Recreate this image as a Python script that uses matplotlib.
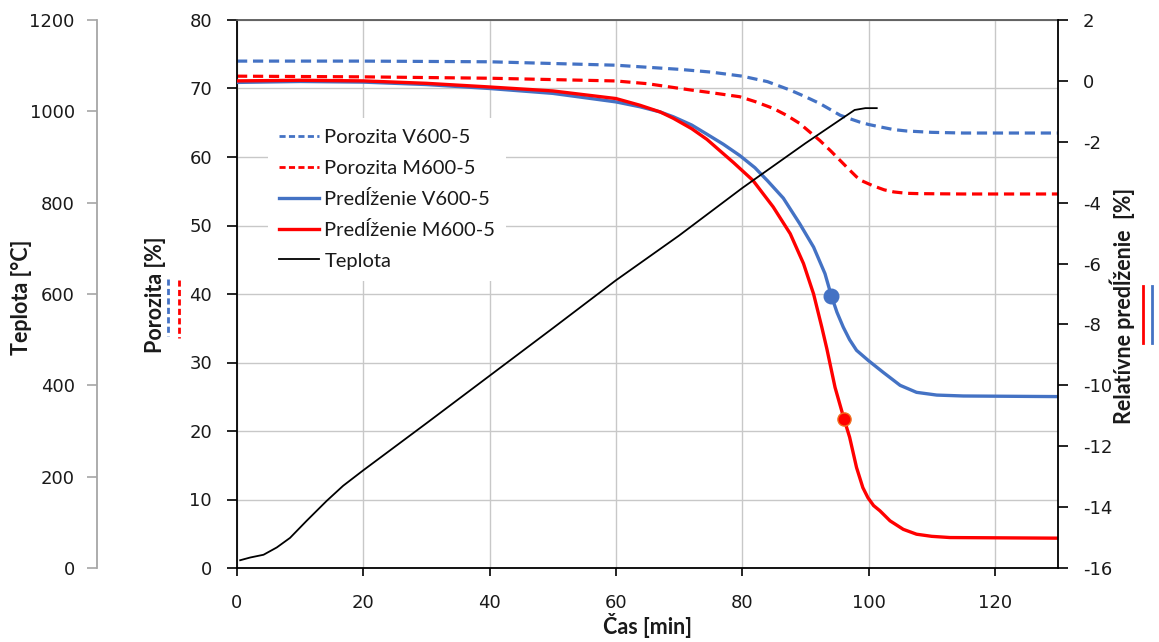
import matplotlib
matplotlib.use("Agg")
import matplotlib.pyplot as plt
from matplotlib.lines import Line2D

plt.rcParams['axes.unicode_minus'] = False
plt.rcParams['font.family'] = ['DejaVu Sans']

# ---------------- data ----------------
# Porosity (left axis, %)
por_v_t = [0, 20, 40, 60, 65, 70, 75, 80, 84, 87.5, 90, 92.3, 94, 95.5, 97, 98.6, 100, 101.8,
           104, 106, 110, 115, 130]
por_v = [74.0, 74.0, 73.9, 73.4, 73.1, 72.8, 72.4, 71.8, 71.0, 69.8, 68.8, 67.8, 66.9, 66.1,
         65.6, 65.1, 64.75, 64.4, 64.0, 63.8, 63.6, 63.5, 63.5]

por_m_t = [0, 20, 40, 60, 65, 71.7, 75, 79.6, 82, 84.9, 87, 89.1, 90.5, 92.3, 94, 95.5, 97, 98.1,
           99, 100.7, 102.5, 104, 106, 108, 115, 130]
por_m = [71.8, 71.7, 71.5, 71.1, 70.7, 69.8, 69.4, 68.8, 68.1, 67.1, 66.1, 64.9, 63.8, 62.4,
         60.9, 59.5, 58.1, 57.1, 56.5, 55.8, 55.2, 54.9, 54.7, 54.65, 54.6, 54.6]

# Relative elongation (right axis, %)
pre_v_t = [0, 10, 20, 30, 40, 50, 60, 63.8, 67, 69.1, 72, 74.4, 77, 79.6, 82, 84, 86.5, 89.1, 91.3,
           93.1, 94.1, 95, 96, 97, 98.1, 100, 102.3, 105, 107.6, 110.8, 115, 130]
pre_v = [-0.05, -0.02, -0.04, -0.12, -0.25, -0.41, -0.69, -0.85, -1.02, -1.18, -1.45, -1.75,
         -2.08, -2.45, -2.85, -3.28, -3.85, -4.69, -5.46, -6.33, -7.05, -7.6, -8.09, -8.5, -8.85,
         -9.19, -9.57, -10.0, -10.23, -10.32, -10.35, -10.37]

pre_m_t = [0, 10, 20, 30, 40, 50, 60, 63.8, 67, 69.1, 72, 74.4, 78.6, 81.7, 84.9, 87.6, 89.7, 91.3,
           92.6, 93.4, 94.7, 96.1, 97, 98.1, 99.1, 99.9, 100.8, 101.8, 103.4, 105.5, 107.6, 110,
           112.9, 130]
pre_m = [0.0, 0.02, 0.0, -0.08, -0.2, -0.33, -0.58, -0.8, -1.02, -1.23, -1.57, -1.92, -2.68,
         -3.27, -4.14, -5.02, -6.0, -7.0, -8.09, -8.8, -10.07, -11.09, -11.7, -12.7, -13.36, -13.69,
         -13.95, -14.12, -14.45, -14.73, -14.89, -14.96, -15.0, -15.02]

# Temperature (far-left axis, °C)
temp_t = [0.5, 2.1, 4.2, 6.3, 8.4, 11, 14.2, 16.8, 20, 30, 40, 50, 60, 70, 80, 90, 97.8, 99.5, 101.3]
temp = [17, 23, 29, 45, 66, 103, 147, 180, 214, 317, 421, 525, 630, 728, 832, 930, 1003, 1007, 1007]

# highlighted points (right axis)
mark_v_t, mark_v = [94.1], [-7.05]
mark_m_t, mark_m = [96.1], [-11.09]

labels = ["Porozita V600-5", "Porozita M600-5", "Predĺženie V600-5", "Predĺženie M600-5", "Teplota"]
x_ticks = [0, 20, 40, 60, 80, 100, 120]
por_ticks = [0, 10, 20, 30, 40, 50, 60, 70, 80]
pre_ticks = [-16, -14, -12, -10, -8, -6, -4, -2, 0, 2]
temp_ticks = [0, 200, 400, 600, 800, 1000, 1200]

BLUE = '#4472C4'
RED = '#FF0000'
TXT = '#1a1a1a'

W, H = 1159, 642
fig = plt.figure(figsize=(W / 100, H / 100), dpi=100)
L, R, T, B = 237, 1058, 20, 568
ax = fig.add_axes([L / W, 1 - B / H, (R - L) / W, (B - T) / H])
ax.set_xlim(0, 130)
ax.set_ylim(0, 80)
ax.set_xticks(x_ticks)
ax.set_yticks(por_ticks)
ax.grid(True, color='#C8C8C8', lw=1.0)
ax.set_axisbelow(True)
for s in ['left', 'bottom']:
    ax.spines[s].set_color('black')
    ax.spines[s].set_linewidth(1.3)
ax.spines['top'].set_color('#595959')
ax.spines['top'].set_linewidth(1.3)
ax.spines['right'].set_visible(False)
ax.tick_params(axis='x', direction='out', length=6, width=1.2, pad=13, labelsize=13, labelcolor=TXT)
ax.tick_params(axis='y', direction='out', length=7, width=1.2, pad=11, labelsize=13, labelcolor=TXT)

axr = ax.twinx()
axr.set_ylim(-16, 2)
axr.set_yticks(pre_ticks)
for s in ['left', 'top', 'bottom']:
    axr.spines[s].set_visible(False)
axr.spines['right'].set_color('black')
axr.spines['right'].set_linewidth(1.3)
axr.tick_params(axis='y', direction='out', length=7, width=1.2, pad=11, labelsize=13, labelcolor=TXT)

axt = ax.twinx()
axt.set_ylim(0, 1200)
axt.set_yticks(temp_ticks)
for s in ['right', 'top', 'bottom']:
    axt.spines[s].set_visible(False)
axt.spines['left'].set_visible(True)
axt.spines['left'].set_position(('axes', (97 - L) / (R - L)))
axt.spines['left'].set_color('#A6A6A6')
axt.spines['left'].set_linewidth(1.3)
axt.yaxis.set_ticks_position('left')
axt.yaxis.set_label_position('left')
axt.tick_params(axis='y', direction='out', length=7, width=1.2, color='#A6A6A6', pad=9,
                labelsize=13, labelcolor=TXT)

# ---------------- series ----------------
ax.plot(por_v_t, por_v, color=BLUE, lw=2.3, dashes=(3.2, 1.8))
ax.plot(por_m_t, por_m, color=RED, lw=2.3, dashes=(3.2, 1.8))
axr.plot(pre_v_t, pre_v, color=BLUE, lw=2.4, solid_joinstyle='round')
axr.plot(pre_m_t, pre_m, color=RED, lw=2.4, solid_joinstyle='round')
axr.plot(mark_v_t, mark_v, 'o', color=BLUE, ms=10.5, zorder=5)
axr.plot(mark_m_t, mark_m, 'o', color=RED, mec='#F07020', mew=1.0, ms=9.5, zorder=5)
axt.plot(temp_t, temp, color='black', lw=1.3, solid_joinstyle='round')

leg_handles = [
    Line2D([], [], color=BLUE, lw=2.0, dashes=(2.2, 1.2)),
    Line2D([], [], color=RED, lw=2.0, dashes=(2.2, 1.2)),
    Line2D([], [], color=BLUE, lw=2.4),
    Line2D([], [], color=RED, lw=2.4),
    Line2D([], [], color='black', lw=1.3),
]
leg = axt.legend(leg_handles, labels, loc='upper left',
                 bbox_to_anchor=((268 - L) / (R - L), 1 - (118 - T) / (B - T)),
                 bbox_transform=ax.transAxes, borderaxespad=0, borderpad=0.55,
                 frameon=True, fancybox=False, framealpha=1, facecolor='white', edgecolor='none',
                 prop={'family': 'Lato', 'size': 14.5}, handlelength=2.0, handletextpad=0.25,
                 labelspacing=0.66)
for t in leg.get_texts():
    t.set_color(TXT)

# ---------------- axis titles ----------------
lab = dict(family='Lato', weight='bold', size=15.5, color=TXT)
fig.text(22 / W, 1 - 297 / H, "Teplota [°C]", rotation=90, ha='center', va='center', **lab)
fig.text(155 / W, 1 - 295 / H, "Porozita [%]", rotation=90, ha='center', va='center', **lab)
fig.text(1122 / W, 1 - 306 / H, "Relatívne predĺženie  [%]", rotation=90, ha='center', va='center', **lab)
fig.text((L + R) / 2 / W, 1 - 625 / H, "Čas [min]", ha='center', va='center', **lab)

# small series glyphs beside axis titles
def vglyph(x, y0, y1, color, dashed):
    kw = dict(color=color, lw=2.0, transform=fig.transFigure)
    if dashed:
        kw['dashes'] = (2.2, 1.2)
    fig.add_artist(Line2D([x / W, x / W], [1 - y0 / H, 1 - y1 / H], **kw))

vglyph(168, 279, 336, BLUE, True)
vglyph(179, 280, 338, RED, True)
vglyph(1143, 286, 343, RED, False)
vglyph(1152, 286, 343, BLUE, False)

fig.savefig("out.png", dpi=100)
